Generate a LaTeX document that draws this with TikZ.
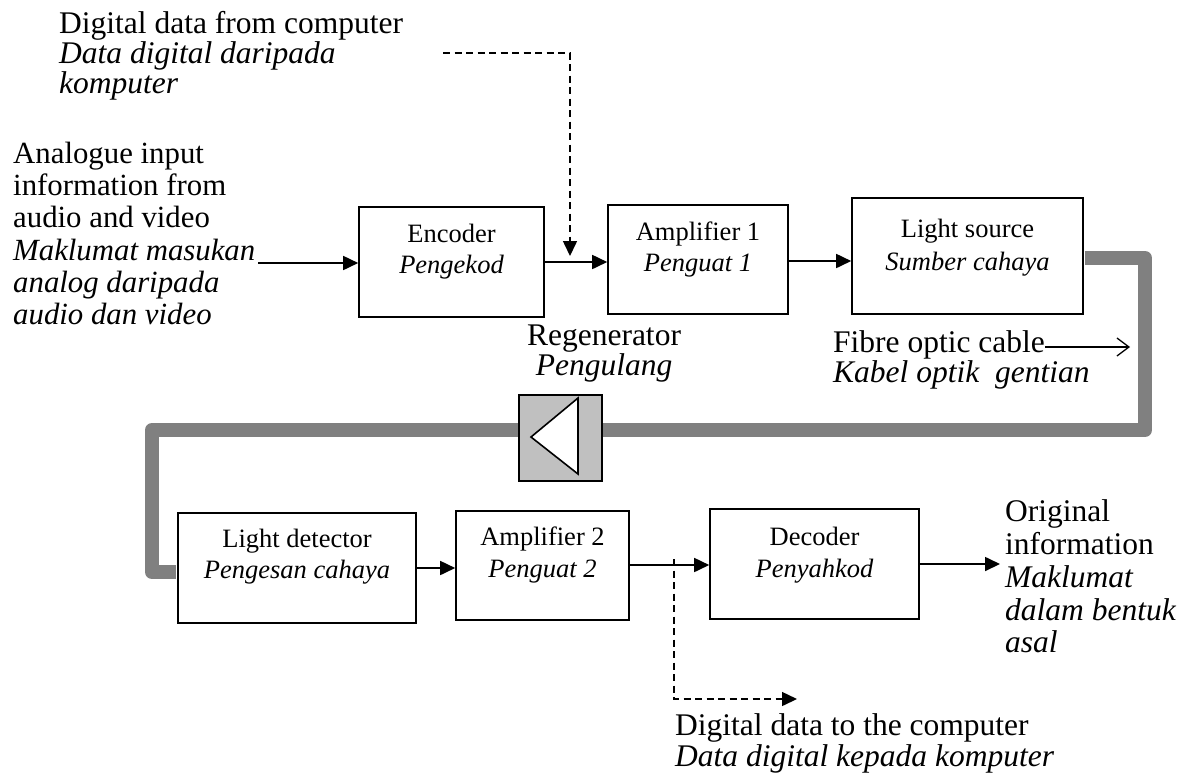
\documentclass[tikz,border=0pt]{standalone}
\usepackage{fontspec}
\setmainfont{Liberation Serif}
\usetikzlibrary{arrows.meta}
\definecolor{cablegray}{HTML}{808080}
\definecolor{regengray}{HTML}{C0C0C0}
\begin{document}
\begin{tikzpicture}[x=1pt,y=-1pt,
  blk/.style={draw, line width=1.6pt, rectangle, inner sep=0pt, fill=white},
  bt/.style={font=\fontsize{26.5}{30}\selectfont, inner sep=0pt, anchor=base},
  ot/.style={font=\fontsize{31.5}{32}\selectfont, inner sep=0pt, anchor=base west},
  lt/.style={font=\fontsize{30.8}{32}\selectfont, inner sep=0pt, anchor=base west},
  oc/.style={font=\fontsize{31.5}{32}\selectfont, inner sep=0pt, anchor=base},
  arr/.style={line width=1.7pt, -{Triangle[length=15pt,width=14pt]}},
  darr/.style={line width=1.5pt, dash pattern=on 7pt off 4.5pt, -{Triangle[length=15pt,width=14pt]}},
  cable/.style={line width=14pt, draw=cablegray, line join=round},
]
\useasboundingbox (0,0) rectangle (1190,780);

% processing blocks
\node[blk, minimum width=185pt, minimum height=110pt] (enc)  at (451.5,262)  {};
\node[blk, minimum width=180pt, minimum height=109pt] (amp1) at (698,259.5)  {};
\node[blk, minimum width=231pt, minimum height=116pt] (ls)   at (967.5,256)  {};
\node[blk, minimum width=238pt, minimum height=110pt] (ld)   at (297,568)    {};
\node[blk, minimum width=173pt, minimum height=109pt] (amp2) at (542.5,565.5){};
\node[blk, minimum width=209pt, minimum height=110pt] (dec)  at (814.5,564)  {};

% block captions
\node[bt] (encA)  at (451.5,242) {Encoder};
\node[bt] (encB)  at (451.5,273) {\itshape Pengekod};
\node[bt] (amp1A) at (698,240)   {Amplifier 1};
\node[bt] (amp1B) at (698,271)   {\itshape Penguat 1};
\node[bt] (lsA)   at (967.5,237) {Light source};
\node[bt] (lsB)   at (967.5,270) {\itshape Sumber cahaya};
\node[bt] (ldA)   at (297,547)   {Light detector};
\node[bt] (ldB)   at (297,578)   {\itshape Pengesan cahaya};
\node[bt] (amp2A) at (542.5,545) {Amplifier 2};
\node[bt] (amp2B) at (542.5,577) {\itshape Penguat 2};
\node[bt] (decA)  at (814.5,545) {Decoder};
\node[bt] (decB)  at (814.5,577) {\itshape Penyahkod};

% fibre optic cable with regenerator
\draw[cable, shorten <=0.8pt, shorten >=0.8pt]
  ([yshift=-2pt]ls.east) -- (1145,258) -- (1145,430) -- (152,430) -- (152,572) -- ([yshift=-4pt]ld.west);
\node[draw, line width=1.6pt, fill=regengray, minimum width=83pt, minimum height=86pt, inner sep=0pt] (regen) at (560.5,438) {};
\draw[line width=1.6pt, fill=white, line join=miter] (531,437) -- (578,398) -- (578,474) -- cycle;

% signal path
\coordinate (inp) at (258,263);
\draw[arr] (inp) -- (inp -| enc.west);
\draw[arr] (enc.east) -- (enc.east -| amp1.west);
\draw[arr] ([yshift=-1.5pt]amp1.east) -- ([yshift=-1.5pt]amp1.east -| ls.west);
\draw[arr] (ld.east) -- (ld.east -| amp2.west);
\draw[arr] ([yshift=0.5pt]amp2.east) -- ([yshift=0.5pt]amp2.east -| dec.west);
\coordinate (outp) at (1000,564);
\draw[arr] (dec.east) -- (outp);

% digital data paths
\coordinate (din) at (443,53);
\coordinate (dtip) at (570,256);
\draw[darr] (din) -| (dtip);
\coordinate (tap) at (674,559);
\coordinate (dout) at (797,699);
\draw[darr] (tap) |- (dout);

% external labels
\node[ot] (t1) at (59,33) {Digital data from computer};
\node[ot] (t2) at (59,63) {\itshape Data digital daripada};
\node[ot] (t3) at (59,93) {\itshape komputer};

\node[lt] (a1) at (13,163) {Analogue input};
\node[lt] (a2) at (13,195) {information from};
\node[lt] (a3) at (13,227) {audio and video};
\node[lt] (a4) at (13,260) {\itshape Maklumat masukan};
\node[lt] (a5) at (13,292) {\itshape analog daripada};
\node[lt] (a6) at (13,324) {\itshape audio dan video};

\node[oc] (r1) at (604,345) {Regenerator};
\node[oc] (r2) at (604,375) {\itshape Pengulang};

\node[ot] (f1) at (833,352) {Fibre optic cable};
\node[ot] (f2) at (833,382) {\itshape Kabel optik\ \ gentian};
\coordinate (ftip) at (1130,347);
\draw[line width=1.3pt, -{Straight Barb[length=12pt,width=18pt,line width=1.3pt]}] (f1.east |- ftip) -- (ftip);

\node[ot] (o1) at (1005,521) {Original};
\node[ot] (o2) at (1005,554) {information};
\node[ot] (o3) at (1005,587) {\itshape Maklumat};
\node[ot] (o4) at (1005,620) {\itshape dalam bentuk};
\node[ot] (o5) at (1005,652) {\itshape asal};

\node[ot] (b1) at (675,735) {Digital data to the computer};
\node[ot] (b2) at (675,766) {\itshape Data digital kepada komputer};
\end{tikzpicture}
\end{document}
